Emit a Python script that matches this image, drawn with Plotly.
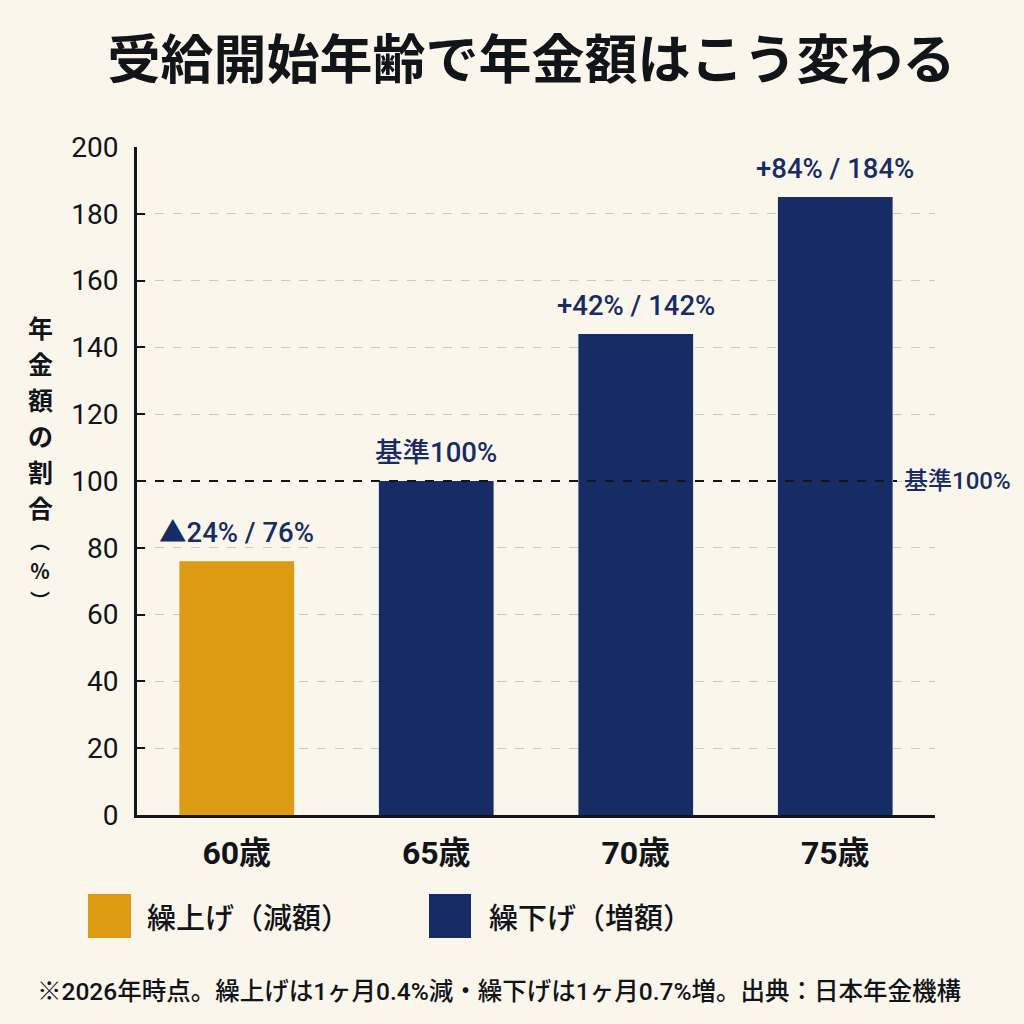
import plotly.graph_objects as go

categories = ["60歳", "65歳", "70歳", "75歳"]
values = [76, 100, 144, 185]
bar_labels = ["▲24% / 76%", "基準100%", "+42% / 142%", "+84% / 184%"]
bar_types = ["繰上げ（減額）", "基準", "繰下げ（増額）", "繰下げ（増額）"]
y_ticks = [0, 20, 40, 60, 80, 100, 120, 140, 160, 180, 200]
baseline = 100
baseline_label = "基準100%"
legend_labels = ["繰上げ（減額）", "繰下げ（増額）"]
title_text = "受給開始年齢で年金額はこう変わる"
y_title_chars = ["年", "金", "額", "の", "割", "合", "︵", "％", "︶"]
footnote = "※2026年時点。繰上げは1ヶ月0.4%減・繰下げは1ヶ月0.7%増。出典：日本年金機構"

BG = "#FAF6EC"
GOLD = "#DC9B12"
NAVY = "#172C64"
INK = "#111418"
FONT = "Roboto, Noto Sans CJK JP, sans-serif"
CJK = "Noto Sans CJK JP, sans-serif"

# plot-area geometry in pixels (for converting layout positions)
PL, PR, PT, PB = 137, 935, 147, 815


def px(x):
    return (x - PL) / (PR - PL)


def py(y):
    return (PB - y) / (PB - PT)


colors = [GOLD if t == legend_labels[0] else NAVY for t in bar_types]

fig = go.Figure()
fig.add_trace(go.Bar(
    x=categories, y=values, marker=dict(color=colors, line=dict(width=0)),
    width=0.575, showlegend=False, hoverinfo="skip",
))

for c, v, lab in zip(categories, values, bar_labels):
    fig.add_annotation(x=c, y=v, text=lab, showarrow=False, yanchor="middle",
                       yshift=29, xanchor="center",
                       font=dict(family=FONT, size=27.5, color=NAVY, weight=500))

fig.update_layout(
    width=1024, height=1024,
    paper_bgcolor=BG, plot_bgcolor=BG,
    margin=dict(l=PL, r=1024 - PR, t=PT, b=1024 - PB),
    title=dict(text=title_text, x=0.519, xref="container", y=1 - 60 / 1024,
               yref="container", xanchor="center", yanchor="middle",
               font=dict(family=CJK, size=53, color=INK, weight="bold")),
)
fig.update_yaxes(
    range=[0, 200], tickvals=y_ticks, ticks="inside", ticklen=8, tickwidth=2,
    tickcolor=INK, showline=True, linecolor=INK, linewidth=3,
    showgrid=True, gridcolor="#CBC8C0", griddash="dash", gridwidth=1,
    tickfont=dict(family=FONT, size=28, color=INK), ticklabelstandoff=10,
    zeroline=False, fixedrange=True,
)
fig.update_xaxes(
    showline=True, linecolor=INK, linewidth=3, ticks="",
    tickfont=dict(family=FONT, size=32, color=INK, weight="bold"),
    ticklabelstandoff=8, fixedrange=True,
)

# baseline dashed line
fig.add_shape(type="line", xref="paper", yref="y", x0=0, x1=px(897),
              y0=baseline, y1=baseline, line=dict(color=INK, width=2, dash="dash"))
fig.add_annotation(xref="paper", yref="y", x=px(902), y=baseline, text=baseline_label,
                   showarrow=False, xanchor="left", yanchor="middle",
                   font=dict(family=FONT, size=24, color=NAVY, weight=500))

# y axis title (vertical, upright glyphs stacked one per annotation)
char_y = [327, 363, 399, 435, 471, 507, 540, 570, 600]
char_size = [25, 25, 25, 25, 25, 25, 20, 20, 20]
for ch, yy, sz in zip(y_title_chars, char_y, char_size):
    fig.add_annotation(xref="paper", yref="paper", x=px(40), y=py(yy), text=ch,
                       showarrow=False, xanchor="center", yanchor="middle",
                       borderpad=0,
                       font=dict(family=CJK, size=sz, color=INK, weight="bold"))

# legend
leg = [(88, 131, 145, GOLD), (429, 471, 487, NAVY)]
for (x0, x1, xt, c), lab in zip(leg, legend_labels):
    fig.add_shape(type="rect", xref="paper", yref="paper", x0=px(x0), x1=px(x1),
                  y0=py(938), y1=py(894), fillcolor=c, line=dict(width=0))
    fig.add_annotation(xref="paper", yref="paper", x=px(xt), y=py(916), text=lab,
                       showarrow=False, xanchor="left", yanchor="middle",
                       font=dict(family=CJK, size=29, color=INK, weight=500))

# footnote
fig.add_annotation(xref="paper", yref="paper", x=px(35), y=py(991), text=footnote,
                   showarrow=False, xanchor="left", yanchor="middle",
                   font=dict(family=FONT, size=24.5, color=INK, weight=500))

fig.write_html("out.html")
